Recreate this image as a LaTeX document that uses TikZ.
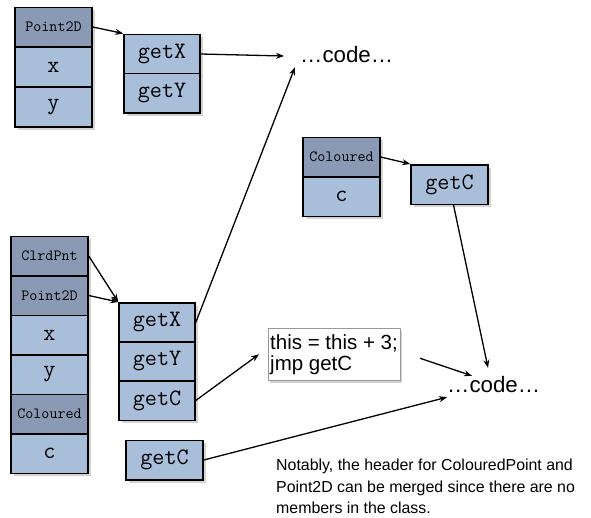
\documentclass[tikz,border=0pt]{standalone}
\usepackage{fontspec}
\setmainfont{Liberation Sans}
\usetikzlibrary{arrows.meta,shadows}
\definecolor{hdrblue}{RGB}{139,154,180}
\definecolor{cellblue}{RGB}{169,190,217}

\begin{document}
\begin{tikzpicture}[x=1pt,y=-1pt,
  cell/.style={draw,line width=1.5pt,fill=cellblue,minimum width=77pt,minimum height=39.5pt,inner sep=0pt,
    font=\fontsize{23.5}{24}\ttfamily,drop shadow={opacity=0.35,shadow xshift=3pt,shadow yshift=-3pt}},
  hdr/.style={cell,fill=hdrblue,font=\fontsize{15.6}{16}\ttfamily},
  code/.style={inner sep=0pt,text height=12pt,text depth=0pt,font=\fontsize{22.3}{24}\selectfont,anchor=base west},
  note/.style={anchor=north west,draw=black!40,fill=white,align=left,inner xsep=2pt,inner ysep=6pt,
    font=\fontsize{20.5}{21}\selectfont,drop shadow={opacity=0.35,shadow xshift=2pt,shadow yshift=-3pt}},
  arr/.style={-{Stealth[length=8pt,width=6pt]},line width=1.3pt}]

\useasboundingbox (0,0) rectangle (591,517);

\node[hdr] (ptHdr) at (53.5,27) {Point2D};
\node[cell] (ptX) at (53.5,67) {x};
\node[cell] (ptY) at (53.5,107) {y};

\node[cell,minimum width=76pt] (ptGetX) at (162,54) {getX};
\node[cell,minimum width=76pt] (ptGetY) at (162,93) {getY};

\node[code] (codeA) at (300,62) {…code…};

\node[hdr] (colHdr) at (341.5,157) {Coloured};
\node[cell] (colC) at (341.5,196.5) {c};
\node[cell] (colGetC) at (449.5,184.5) {getC};

\node[hdr] (cpHdr) at (49.5,256) {ClrdPnt};
\node[hdr] (cpPt) at (49.5,295.5) {Point2D};
\node[cell] (cpX) at (49.5,335) {x};
\node[cell] (cpY) at (49.5,374.5) {y};
\node[hdr] (cpCol) at (49.5,414) {Coloured};
\node[cell] (cpC) at (49.5,453.5) {c};

\node[cell,minimum width=76pt] (cpGetX) at (157,322.5) {getX};
\node[cell,minimum width=76pt] (cpGetY) at (157,361.5) {getY};
\node[cell,minimum width=76pt] (cpGetC) at (157,400.5) {getC};
\node[cell] (cpColGetC) at (164.5,460) {getC};

\node[note] (thunk) at (268,328) {this = this + 3;\\jmp getC};

\node[code] (codeB) at (447,392) {…code…};

\node[anchor=north west,align=left,inner sep=0pt,font=\fontsize{15.9}{21.5}\selectfont] (remark) at (276,459)
  {Notably, the header for ColouredPoint and\\Point2D can be merged since there are no\\members in the class.};

\draw[arr] (ptHdr.east) -- (ptGetX.north west);
\draw[arr] (ptGetX.east) -- ([xshift=-16pt]codeA.west);
\draw[arr] (colHdr.east) -- (colGetC.north west);
\draw[arr] ([xshift=4pt]colGetC.south) -- ([xshift=41pt,yshift=12pt]codeB.north west);
\draw[arr] (cpHdr.east) -- (cpGetX.north west);
\draw[arr] (cpPt.east) -- (cpGetX.north west);
\draw[arr] (cpGetX.east) -- ([xshift=-5pt,yshift=-5pt]codeA.south west);
\draw[arr] (cpGetC.east) -- ([xshift=-9pt]thunk.west);
\draw[arr] ([xshift=20pt,yshift=-4pt]thunk.east) -- ([xshift=25pt,yshift=4pt]codeB.north west);
\draw[arr] (cpColGetC.east) -- ([yshift=-5pt]codeB.south west);

\end{tikzpicture}
\end{document}
